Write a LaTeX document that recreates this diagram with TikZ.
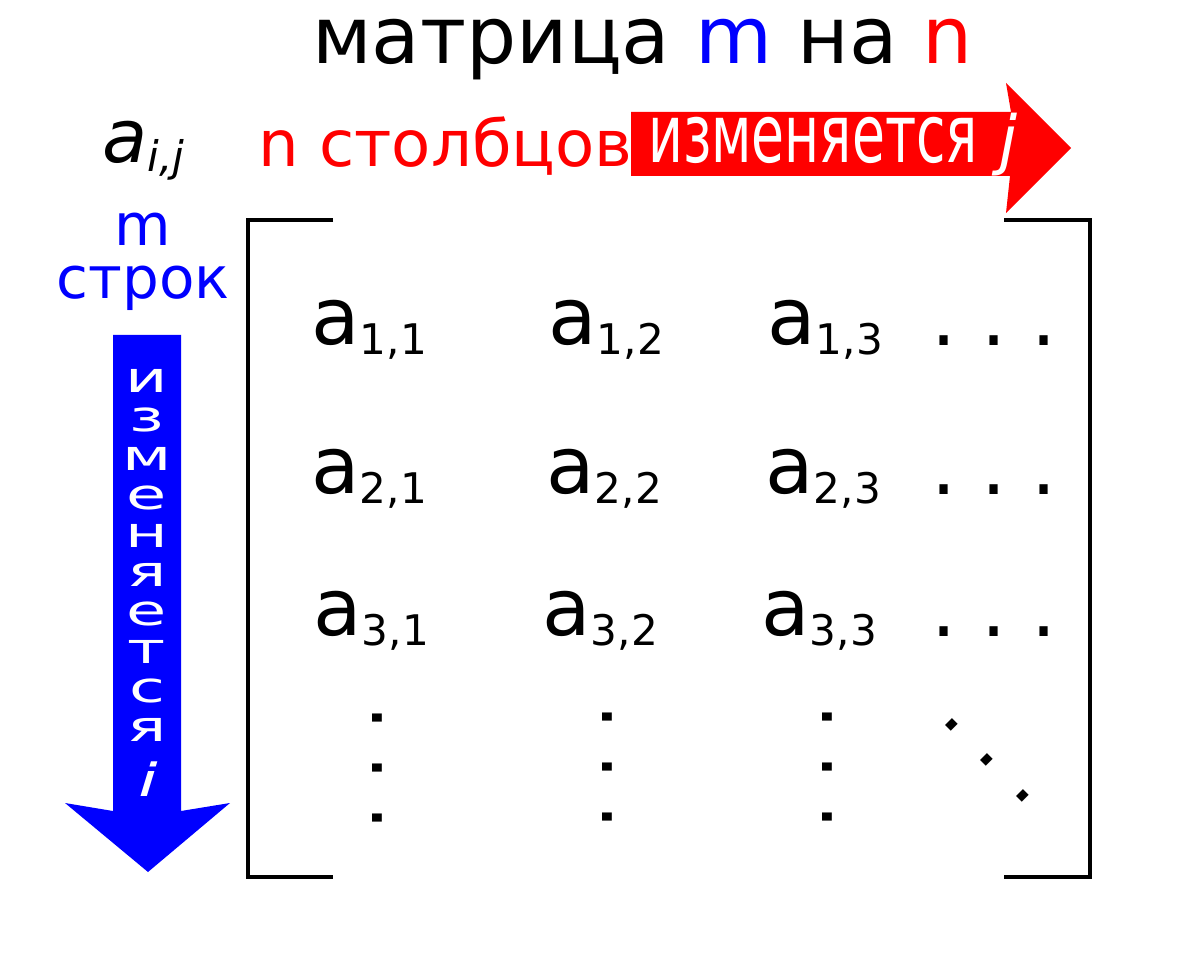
\documentclass[tikz,border=0pt]{standalone}
\usepackage{fontspec}
\setmainfont{DejaVu Sans}
\usepackage{xcolor}
\definecolor{rowBlue}{RGB}{0, 0, 255}
\definecolor{colRed}{RGB}{255, 0, 0}
\usepackage{tikz}
\frenchspacing
\newcommand{\fsz}[1]{\fontsize{#1}{#1}\selectfont}
\newcommand{\matEl}[2]{a\raisebox{-5.5pt}{\fsz{24}#1,#2}}

\begin{document}
\begin{tikzpicture}[
    x=0.02cm, y=-0.02cm,
    every node/.style={inner sep=0pt},
    headText/.style={
        font=\fsz{45}, anchor=base west
    },
    matEntry/.style={
        font=\fsz{45}, anchor=base west
    },
    dotRow/.style={
        font=\fsz{45}
    },
    bracketLine/.style={
        draw=black, line width=2.3pt
    },
    arrowLetter/.style={
        text=white, font=\fsz{24}, xscale=1.55, anchor=base
    }
]
    \useasboundingbox (0,0) rectangle (1200,972);

    % Title and labels
    \node[headText] (title) at (312,64) {матрица {\color{rowBlue}m} на {\color{colRed}n}};
    \node[headText, font=\fsz{42}\itshape] (aij) at (102,163) {a\raisebox{-5pt}{\fsz{24}i,j}};
    \node[headText, font=\fsz{36.5}, text=colRed] (colLabel) at (258,167) {n столбцов};
    \node[font=\fontsize{33}{30}\selectfont, text=rowBlue, align=center, anchor=north]
        (rowLabel) at (143,213) {m\\строк};

    % Arrows
    \fill[colRed] (631,112) -- (1011,112) -- (1006,83) -- (1071,148) -- (1006,213)
        -- (1010,176) -- (631,176) -- cycle;
    \node[text=white, font=\fsz{46}, xscale=0.663, anchor=base west] (colArrowText) at (648,163)
        {изменяется\hspace{18pt}\scalebox{1.5}[1]{\fsz{37}\itshape j}};

    \fill[rowBlue] (113,335) -- (181,335) -- (181,811) -- (230,803) -- (148,872)
        -- (65,803) -- (113,811) -- cycle;
    \foreach \ch [count=\k from 0] in {и,з,м,е,н,я,е,т,с,я}
        \node[arrowLetter] (rowLetter\k) at (147,{393+38.7*\k}) {\ch};
    \node[arrowLetter, font=\fsz{26}\itshape] (rowLetterI) at (148,796) {i};

    % Brackets
    \draw[bracketLine] (333,220) -- (248,220) -- (248,877) -- (333,877);
    \draw[bracketLine] (1004,220) -- (1090,220) -- (1090,877) -- (1004,877);

    % Entries
    \node[matEntry] (a11) at (311,345) {\matEl{1}{1}};
    \node[matEntry] (a12) at (548,345) {\matEl{1}{2}};
    \node[matEntry] (a13) at (767,345) {\matEl{1}{3}};

    \node[matEntry] (a21) at (311,494) {\matEl{2}{1}};
    \node[matEntry] (a22) at (546,494) {\matEl{2}{2}};
    \node[matEntry] (a23) at (765,494) {\matEl{2}{3}};

    \node[matEntry] (a31) at (313,636) {\matEl{3}{1}};
    \node[matEntry] (a32) at (542,636) {\matEl{3}{2}};
    \node[matEntry] (a33) at (761,636) {\matEl{3}{3}};

    % Dots
    \node[dotRow] (dotsR1) at (994,341) {. . .};
    \node[dotRow] (dotsR2) at (994,490) {. . .};
    \node[dotRow] (dotsR3) at (994,632) {. . .};

    \node[dotRow, rotate=-90] (vdotsC1) at (377.5,768) {. . .};
    \node[dotRow, rotate=-90] (vdotsC2) at (607,767) {. . .};
    \node[dotRow, rotate=-90] (vdotsC3) at (827,767) {. . .};

    \node[dotRow, rotate=-45] (ddots) at (987,760) {. . .};

\end{tikzpicture}
\end{document}
